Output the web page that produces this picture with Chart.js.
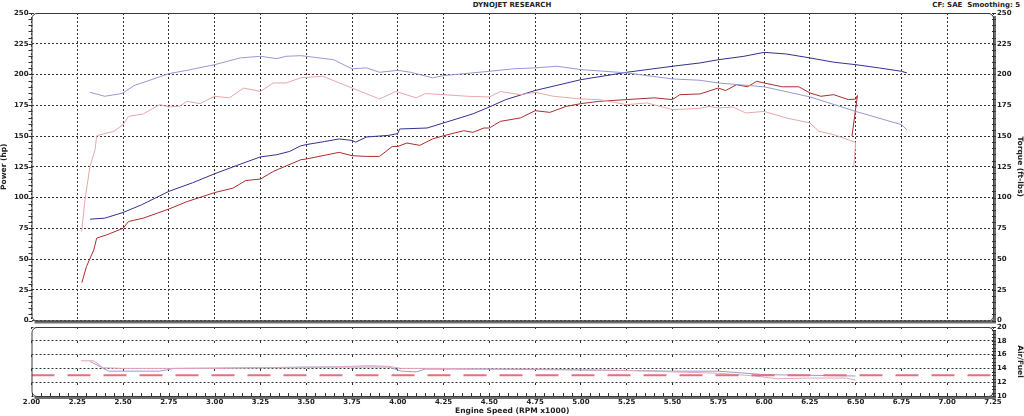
<!DOCTYPE html>
<html>
<head>
<meta charset="utf-8">
<title>Dynojet Research</title>
<script src="https://cdn.jsdelivr.net/npm/chart.js@4.4.1/dist/chart.umd.min.js"></script>
<style>
  body { margin: 0; background: #fff; }
  #wrap { position: relative; width: 1024px; height: 416px; overflow: hidden; font-family: "DejaVu Sans", Verdana, sans-serif; }
  #power-chart { position: absolute; left: 0; top: 0; }
  #afr-chart { position: absolute; left: 0; top: 322px; }
  .head { position: absolute; top: 0; font-size: 7px; font-weight: bold; color: #222; line-height: 11px; white-space: pre; }
  #title { left: 0; width: 1024px; text-align: center; }
  #cf { right: 4px; }
</style>
</head>
<body>
<div id="wrap">
  <div class="head" id="title">DYNOJET RESEARCH</div>
  <div class="head" id="cf">CF: SAE  Smoothing: 5</div>
  <canvas id="power-chart" width="1024" height="326"></canvas>
  <canvas id="afr-chart" width="1024" height="94"></canvas>
</div>
<script>
// axis ranges
const rpmMin = 2.0, rpmMax = 7.25, rpmStep = 0.25;
const hpMin = 0, hpMax = 250, hpStep = 25;
const afrMin = 10, afrMax = 20, afrStep = 2;
const afrTarget = 13.0;

// run 1 (red)
const run1PowerRpm = [2.275, 2.30, 2.34, 2.356, 2.41, 2.50, 2.53, 2.61, 2.75, 2.85, 3.00, 3.10, 3.17, 3.25, 3.32, 3.47, 3.50, 3.68, 3.75, 3.83, 3.90, 3.97, 4.00, 4.05, 4.12, 4.19, 4.25, 4.36, 4.41, 4.47, 4.50, 4.56, 4.67, 4.75, 4.83, 4.92, 5.00, 5.10, 5.25, 5.40, 5.50, 5.54, 5.65, 5.75, 5.79, 5.85, 5.91, 5.96, 6.00, 6.10, 6.19, 6.25, 6.31, 6.38, 6.46, 6.50, 6.51, 6.48];
const run1Power = [30.8, 43.8, 57.4, 67, 69.6, 75, 80.5, 83.2, 90.6, 96.7, 104, 107.6, 113.8, 115, 121.2, 130.7, 131.3, 136.7, 134, 133.4, 133.4, 141.5, 141.5, 144.3, 142.4, 147.6, 150.2, 154.3, 153, 156.5, 156.5, 161.9, 164.7, 170.6, 169.2, 174.1, 176.3, 178.2, 179.6, 181, 179.6, 183.6, 184.2, 189, 187, 191.7, 190, 194.5, 193.1, 190, 190, 185, 182.3, 183.6, 179.6, 180, 183, 150];
const run1TorqueRpm = [2.274, 2.292, 2.319, 2.347, 2.356, 2.39, 2.45, 2.50, 2.53, 2.61, 2.70, 2.75, 2.81, 2.85, 2.92, 3.00, 3.08, 3.16, 3.25, 3.32, 3.39, 3.47, 3.59, 3.75, 3.90, 3.99, 4.10, 4.15, 4.25, 4.38, 4.50, 4.56, 4.67, 4.75, 4.85, 5.00, 5.10, 5.25, 5.36, 5.50, 5.65, 5.70, 5.75, 5.83, 5.90, 6.00, 6.12, 6.25, 6.30, 6.38, 6.50, 6.49];
const run1Torque = [72.3, 98.1, 125.2, 138.8, 150.2, 151.6, 153.8, 159.2, 166, 167.9, 175.5, 173.6, 174.3, 178.2, 176.3, 182.3, 181, 189, 186.2, 193.1, 193.1, 197.3, 198.6, 189, 180.1, 186.2, 181, 184.5, 183.6, 182.3, 181.7, 186.2, 183.6, 185.5, 182.3, 180.1, 179.6, 175.5, 176.9, 171.4, 172.5, 174.1, 172.8, 173.6, 168.7, 170, 164.7, 160.6, 153.8, 151.1, 144.8, 125.2];

// run 2 (blue)
const run2PowerRpm = [2.32, 2.40, 2.50, 2.60, 2.75, 2.88, 3.00, 3.12, 3.25, 3.34, 3.41, 3.47, 3.50, 3.60, 3.68, 3.75, 3.77, 3.83, 3.95, 4.00, 4.01, 4.16, 4.25, 4.41, 4.50, 4.59, 4.75, 5.00, 5.25, 5.50, 5.65, 5.75, 5.89, 6.00, 6.12, 6.25, 6.38, 6.50, 6.63, 6.75, 6.78];
const run2Power = [82.4, 83.2, 87.8, 94, 105, 112, 119.3, 126, 133, 134.8, 137.5, 142, 143, 145.5, 147.6, 146.4, 145, 149.2, 150.5, 152, 155.7, 156.5, 160.6, 168, 173.6, 179.6, 187, 195.8, 201.8, 206.7, 209.4, 212, 214.8, 218, 216.7, 213.5, 210, 208, 205.3, 202.6, 201.3];
const run2TorqueRpm = [2.32, 2.40, 2.48, 2.50, 2.56, 2.63, 2.75, 2.85, 3.00, 3.14, 3.25, 3.34, 3.39, 3.47, 3.50, 3.65, 3.75, 3.83, 3.90, 4.00, 4.07, 4.19, 4.25, 4.50, 4.63, 4.75, 4.87, 5.00, 5.25, 5.50, 5.65, 5.75, 6.00, 6.25, 6.50, 6.75, 6.78];
const run2Torque = [185.5, 182.3, 184.2, 185, 191, 194.5, 200.7, 203.4, 208, 213.5, 214.8, 212.9, 214.8, 215.3, 214.8, 212, 204.6, 205.4, 201.8, 203.4, 201.8, 197.3, 199.1, 202.6, 204.6, 205.4, 206.7, 204, 201.3, 196.4, 195.3, 193.1, 190, 181.8, 170, 159.2, 155];

// air/fuel ratio
const run1AfrRpm = [2.27, 2.34, 2.39, 2.50, 2.75, 3.00, 3.25, 3.50, 3.75, 3.85, 3.95, 4.02, 4.25, 4.50, 4.75, 5.00, 5.25, 5.50, 5.75, 5.95, 6.07, 6.25, 6.45, 6.50];
const run1Afr = [15.1, 15.1, 14.1, 14.0, 14.0, 14.0, 14.1, 14.1, 14.3, 14.4, 14.3, 14.0, 14.0, 13.9, 13.9, 13.8, 13.7, 13.5, 13.3, 12.9, 12.5, 12.6, 12.6, 12.3];
const run2AfrRpm = [2.32, 2.38, 2.42, 2.70, 2.78, 3.25, 3.50, 3.75, 3.95, 4.02, 4.10, 4.15, 4.50, 4.85, 5.25, 5.50, 5.75, 6.00, 6.25, 6.50];
const run2Afr = [15.0, 14.2, 13.6, 13.6, 14.0, 14.1, 14.2, 14.2, 14.2, 13.6, 13.5, 13.9, 13.9, 13.8, 13.7, 13.6, 13.6, 13.1, 13.0, 12.9];

const tickFont = { family: '"DejaVu Sans", Verdana, sans-serif', size: 7, weight: 'bold' };
const titleFont = { family: '"DejaVu Sans", Verdana, sans-serif', size: 7.5, weight: 'bold' };
const ink = '#222';

function pts(xs, ys) {
  return xs.map((x, i) => ({ x: x, y: ys[i] }));
}

function line(label, xs, ys, color, axis) {
  return {
    label: label,
    data: pts(xs, ys),
    borderColor: color,
    borderWidth: 1,
    pointRadius: 0,
    tension: 0,
    fill: false,
    yAxisID: axis
  };
}

// rounded frame with a grey drop edge, plus the small minor ticks
const dynoFrame = {
  id: 'dynoFrame',
  afterDatasetsDraw(chart, args, opts) {
    const ctx = chart.ctx, a = chart.chartArea;
    ctx.save();
    ctx.strokeStyle = '#6e6e6e';
    ctx.lineWidth = 3;
    ctx.beginPath();
    ctx.moveTo(a.left + 3, a.bottom + 1.5);
    ctx.lineTo(a.right + 1.5, a.bottom + 1.5);
    ctx.lineTo(a.right + 1.5, a.top + 3);
    ctx.stroke();

    ctx.strokeStyle = '#3a3a3a';
    ctx.lineWidth = 1;
    ctx.beginPath();
    ctx.roundRect(a.left + 0.5, a.top + 0.5, a.right - a.left, a.bottom - a.top, 5);
    ctx.stroke();

    ctx.strokeStyle = '#333';
    (opts.minor || []).forEach(m => {
      const s = chart.scales[m.scale];
      ctx.beginPath();
      for (let v = s.min; v <= s.max + 1e-9; v += m.step) {
        const p = Math.round(s.getPixelForValue(v)) + 0.5;
        if (s.isHorizontal()) {
          ctx.moveTo(p, a.bottom + m.from);
          ctx.lineTo(p, a.bottom + m.to);
        } else {
          const x = m.side === 'left' ? a.left : a.right;
          ctx.moveTo(x + m.from, p);
          ctx.lineTo(x + m.to, p);
        }
      }
      ctx.stroke();
    });
    ctx.restore();
  }
};

function fixWidth(w) {
  return function (s) {
    s.width = w;
    s.paddingTop = 0;
    s.paddingBottom = 0;
  };
}
function fixHeight(h) {
  return function (s) {
    s.height = h;
    s.paddingLeft = 0;
    s.paddingRight = 0;
  };
}

const rpmAxis = {
  type: 'linear',
  min: rpmMin,
  max: rpmMax,
  ticks: { stepSize: rpmStep, display: false },
  grid: { color: '#333', lineWidth: 1, drawTicks: false },
  border: { display: false, dash: [2, 2] }
};

new Chart(document.getElementById('power-chart'), {
  type: 'line',
  data: {
    datasets: [
      line('Run 1 Torque', run1TorqueRpm, run1Torque, '#e8a8a8', 'y'),
      line('Run 2 Torque', run2TorqueRpm, run2Torque, '#9898d4', 'y'),
      line('Run 1 Power', run1PowerRpm, run1Power, '#aa2e2e', 'y'),
      line('Run 2 Power', run2PowerRpm, run2Power, '#32328f', 'y')
    ]
  },
  options: {
    responsive: false,
    animation: false,
    devicePixelRatio: 1,
    layout: { padding: { top: 13, left: 0, right: 0, bottom: 0 } },
    plugins: {
      legend: { display: false },
      tooltip: { enabled: false },
      dynoFrame: {
        minor: [
          { scale: 'y', side: 'left', step: 5, from: -3, to: 1 },
          { scale: 'y2', side: 'right', step: 5, from: -1, to: 3 }
        ]
      }
    },
    scales: {
      x: Object.assign({}, rpmAxis, { afterFit: fixHeight(5.5) }),
      y: {
        position: 'left',
        min: hpMin,
        max: hpMax,
        ticks: { stepSize: hpStep, font: tickFont, color: ink, padding: 3 },
        grid: { color: '#333', lineWidth: 1, drawTicks: false },
        border: { display: false, dash: [2, 2] },
        title: { display: true, text: 'Power (hp)', font: titleFont, color: ink, padding: 0 },
        afterFit: fixWidth(31.5)
      },
      y2: {
        position: 'right',
        min: hpMin,
        max: hpMax,
        ticks: { stepSize: hpStep, font: tickFont, color: ink, padding: 4 },
        grid: { display: false, drawTicks: false },
        border: { display: false },
        title: { display: true, text: 'Torque (ft-lbs)', font: titleFont, color: ink, padding: 0 },
        afterFit: fixWidth(31)
      }
    }
  },
  plugins: [dynoFrame]
});

new Chart(document.getElementById('afr-chart'), {
  type: 'line',
  data: {
    datasets: [
      {
        label: 'Target',
        data: [{ x: rpmMin, y: afrTarget }, { x: rpmMax, y: afrTarget }],
        borderColor: '#e27080',
        borderWidth: 2,
        borderDash: [23, 13],
        pointRadius: 0,
        yAxisID: 'y2'
      },
      line('Run 1 A/F', run1AfrRpm, run1Afr, '#e2a6bc', 'y2'),
      line('Run 2 A/F', run2AfrRpm, run2Afr, '#9a9ad0', 'y2')
    ]
  },
  options: {
    responsive: false,
    animation: false,
    devicePixelRatio: 1,
    layout: { padding: { top: 5, left: 31.5, right: 0, bottom: 0 } },
    plugins: {
      legend: { display: false },
      tooltip: { enabled: false },
      dynoFrame: {
        minor: [
          { scale: 'x', step: 0.05, from: -3, to: 1 },
          { scale: 'y2', side: 'right', step: 0.5, from: -1, to: 3 }
        ]
      }
    },
    scales: {
      x: {
        type: 'linear',
        min: rpmMin,
        max: rpmMax,
        ticks: {
          stepSize: rpmStep,
          font: tickFont,
          color: ink,
          padding: 2,
          maxRotation: 0,
          callback: v => v.toFixed(2)
        },
        grid: { color: '#333', lineWidth: 1, drawTicks: false },
        border: { display: false, dash: [2, 12] },
        title: { display: true, text: 'Engine Speed (RPM x1000)', font: titleFont, color: ink, padding: 0 },
        afterFit: fixHeight(20)
      },
      y2: {
        position: 'right',
        min: afrMin,
        max: afrMax,
        ticks: { stepSize: afrStep, font: tickFont, color: ink, padding: 4 },
        grid: { color: '#333', lineWidth: 1, drawTicks: false },
        border: { display: false, dash: [2, 2] },
        title: { display: true, text: 'Air/Fuel', font: titleFont, color: ink, padding: 0 },
        afterFit: fixWidth(31)
      }
    }
  },
  plugins: [dynoFrame]
});
</script>
</body>
</html>
